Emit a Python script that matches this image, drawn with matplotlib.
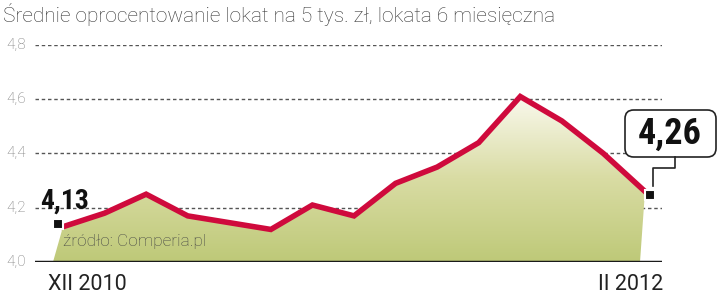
import numpy as np
import matplotlib
matplotlib.use('Agg')
import matplotlib.pyplot as plt
from matplotlib.patches import Polygon, FancyBboxPatch
from matplotlib.lines import Line2D
from matplotlib.colors import LinearSegmentedColormap
import matplotlib.transforms as mtransforms

title = "Średnie oprocentowanie lokat na 5 tys. zł, lokata 6 miesięczna"
months = ['XII 2010', 'I 2011', 'II 2011', 'III 2011', 'IV 2011', 'V 2011', 'VI 2011',
          'VII 2011', 'VIII 2011', 'IX 2011', 'X 2011', 'XI 2011', 'XII 2011', 'I 2012', 'II 2012']
rates = [4.13, 4.18, 4.25, 4.17, 4.145, 4.12, 4.21, 4.17, 4.29, 4.35, 4.44, 4.61, 4.52, 4.40, 4.26]
yticks = [4.0, 4.2, 4.4, 4.6, 4.8]
ytick_labels = ['4,0', '4,2', '4,4', '4,6', '4,8']
source = "źródło: Comperia.pl"

RED = '#cf0a3c'
W, H = 720, 297
NARROW = ['Roboto Condensed', 'Liberation Sans Narrow', 'DejaVu Sans']

def main():
    fig = plt.figure(figsize=(7.2, 2.97), dpi=100)
    ax = fig.add_axes([35 / W, 35 / H, 627 / W, 217 / H])
    x = np.arange(len(rates))
    step = 582 / 14
    ax.axis('off')

    # dotted grid
    for t in yticks[1:]:
        ax.axhline(t, color='#555555', lw=1.0, ls=(0, (2.5, 2)), zorder=1)
    ax.axhline(4.0, color='#1a1a1a', lw=2.5, zorder=5)

    # gradient fill under the line
    verts = [(x[0] - 10 / step, 4.0)] + list(zip(x, rates)) + [(x[-1] - 5 / step, 4.0)]
    poly = Polygon(verts, closed=True, facecolor='none', edgecolor='none')
    ax.add_patch(poly)
    grad = np.linspace(0, 1, 256).reshape(-1, 1)
    cmap = LinearSegmentedColormap.from_list('g', ['#bec978', '#d9dca4', '#fbfaf0'])
    im = ax.imshow(grad, cmap=cmap, aspect='auto', extent=[x[0] - 1, x[-1] + 1, 4.0, 4.62],
                   origin='lower', zorder=2)
    im.set_clip_path(poly)

    ax.set_xlim(-28 / step, 14 + 17 / step)
    ax.set_ylim(4.0, 4.8)

    ax.plot(x, rates, color=RED, lw=4, solid_joinstyle='miter', zorder=4, clip_on=False)

    # end markers
    off1 = mtransforms.offset_copy(ax.transData, fig=fig, x=-5, y=3, units='dots')
    ax.plot([x[0]], [rates[0]], marker='s', ms=7, color='#111111', mec='white', mew=1.5,
            transform=off1, zorder=6, clip_on=False)
    off2 = mtransforms.offset_copy(ax.transData, fig=fig, x=5, y=-4, units='dots')
    ax.plot([x[-1]], [rates[-1]], marker='s', ms=7, color='#111111', mec='white', mew=1.5,
            transform=off2, zorder=6, clip_on=False)

    ax.text(x[0] - 23 / step, rates[0] + 0.045, f"{rates[0]:.2f}".replace('.', ','),
            family=NARROW, fontstretch='condensed', fontweight='bold', fontsize=20,
            color='#111111', ha='left', va='bottom', zorder=7)

    # callout for last value
    box = FancyBboxPatch((625 / W, 1 - 157 / H), 91 / W, 47 / H,
                         boxstyle='round,pad=0,rounding_size=0.012',
                         transform=fig.transFigure, fc='white', ec='#222222', lw=1.2,
                         zorder=6, mutation_aspect=W / H)
    fig.add_artist(box)
    fig.text(670 / W, 1 - 134 / H, f"{rates[-1]:.2f}".replace('.', ','),
             family=NARROW, fontstretch='condensed', fontweight='bold', fontsize=26,
             color='#111111', ha='center', va='center', zorder=7)
    pts = [(675, 157), (675, 168), (653, 168), (653, 186)]
    fig.add_artist(Line2D([p[0] / W for p in pts], [1 - p[1] / H for p in pts],
                          color='#222222', lw=1.2, zorder=8))

    # y tick labels
    for t, lab in zip(yticks, ytick_labels):
        ax.text(-28 / step - 9 / step, t, lab, ha='right', va='center', fontsize=11,
                color='#777777', family='Roboto', fontweight='light', clip_on=False)

    # x labels
    fig.text(48 / W, 1 - 284 / H, months[0], ha='left', va='center', fontsize=15.5,
             color='#222222', family='Roboto')
    fig.text(663 / W, 1 - 284 / H, months[-1], ha='right', va='center', fontsize=15.5,
             color='#222222', family='Roboto')

    ax.text(x[0], 4.075, source, ha='left', va='center', fontsize=12.4,
            color='#444444', family='Roboto', fontweight='light', zorder=7)

    fig.text(3 / W, 1 - 15 / H, title, ha='left', va='center', fontsize=15,
             color='#333333', family='Roboto', fontweight='light')

    fig.savefig('out.png', dpi=100)

if __name__ == '__main__':
    main()
